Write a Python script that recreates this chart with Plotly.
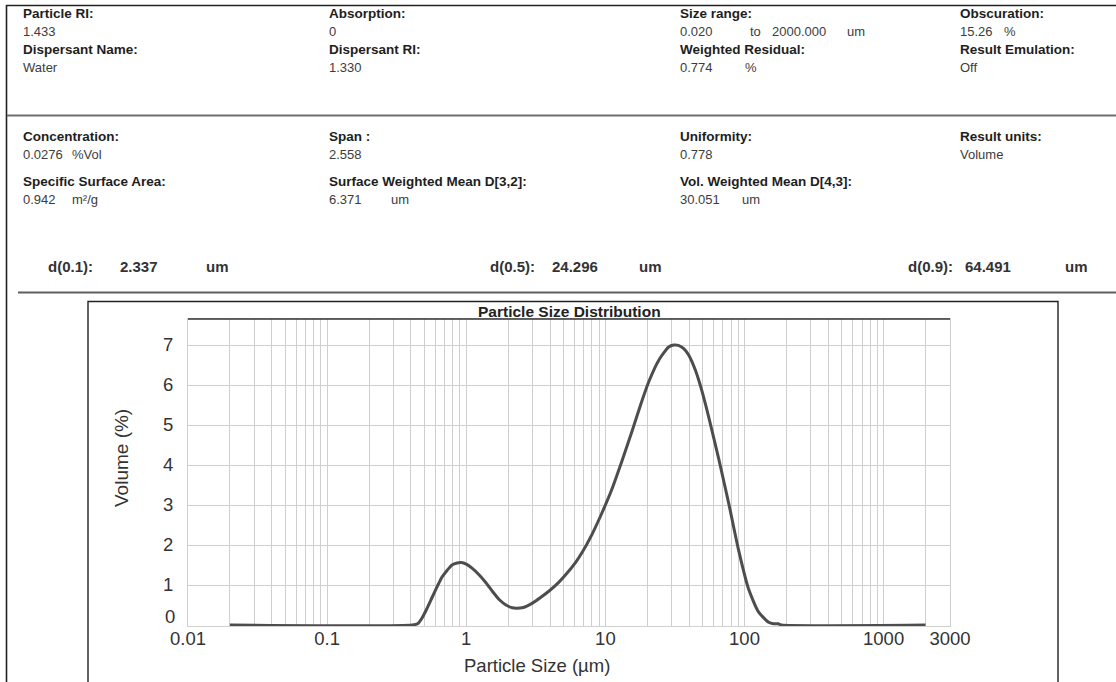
import plotly.graph_objects as go

# ---------------- data ----------------
sizes_um = [0.02, 0.41, 0.45, 0.48, 0.52, 0.57, 0.62, 0.67, 0.73, 0.79, 0.86, 0.92,
            1.0, 1.1, 1.24, 1.39, 1.55, 1.73, 1.93, 2.14, 2.3, 2.52, 2.75, 2.97,
            3.4, 3.94, 4.6, 5.2, 6.15, 6.8, 8.0, 9.44, 11.1, 13.1, 15.5, 17.9,
            20.5, 24.2, 28.5, 31.0, 33.5, 36.6, 39.7, 44.6, 46.8, 50.0, 55.2,
            65.1, 76.8, 90.6, 107, 126, 149, 162, 175, 185, 2000]
volume_pct = [0, 0, 0.04, 0.17, 0.4, 0.7, 0.97, 1.2, 1.37, 1.5, 1.55, 1.56,
              1.52, 1.42, 1.25, 1.05, 0.83, 0.63, 0.5, 0.43, 0.42, 0.43, 0.48, 0.54,
              0.68, 0.85, 1.06, 1.26, 1.58, 1.81, 2.26, 2.8, 3.38, 4.08, 4.83, 5.5,
              6.08, 6.62, 6.95, 7.0, 6.99, 6.91, 6.75, 6.35, 6.13, 5.79, 5.21,
              4.17, 3.06, 1.88, 0.9, 0.33, 0.07, 0.03, 0.03, 0, 0]

x_tick_vals = [0.01, 0.1, 1, 10, 100, 1000, 3000]
x_tick_text = ["0.01", "0.1", "1", "10", "100", "1000", "3000"]
y_tick_vals = [1, 2, 3, 4, 5, 6, 7]
y_zero_label = "0"
minor_grid_vals = [m * d for d in [0.01, 0.1, 1, 10, 100, 1000] for m in range(2, 10)] + [2000]

# header fields: (x, y of label, label, [(x, value text), ...])
header_rows = [
    (21, 13, "Particle RI:", [(21, "1.433")]),
    (21, 49, "Dispersant Name:", [(21, "Water")]),
    (327, 13, "Absorption:", [(327, "0")]),
    (327, 49, "Dispersant RI:", [(327, "1.330")]),
    (678, 13, "Size range:", [(678, "0.020"), (748, "to"), (770, "2000.000"), (845, "um")]),
    (678, 49, "Weighted Residual:", [(678, "0.774"), (743, "%")]),
    (958, 13, "Obscuration:", [(958, "15.26"), (1002, "%")]),
    (958, 49, "Result Emulation:", [(958, "Off")]),
    (21, 136, "Concentration:", [(21, "0.0276"), (70, "%Vol")]),
    (21, 181, "Specific Surface Area:", [(21, "0.942"), (70, "m²/g")]),
    (327, 136, "Span :", [(327, "2.558")]),
    (327, 181, "Surface Weighted Mean D[3,2]:", [(327, "6.371"), (389, "um")]),
    (678, 136, "Uniformity:", [(678, "0.778")]),
    (678, 181, "Vol. Weighted Mean D[4,3]:", [(678, "30.051"), (740, "um")]),
    (958, 136, "Result units:", [(958, "Volume")]),
]
d_row = [(46, "d(0.1):"), (118, "2.337"), (204, "um"),
         (488, "d(0.5):"), (550, "24.296"), (637, "um"),
         (906, "d(0.9):"), (963, "64.491"), (1063, "um")]

# ---------------- layout geometry ----------------
W, H = 1116, 682
L, R, T, B = 188, 950, 319, 626
Y_MIN, Y_MAX = -0.025, 7.65


def px(xp):
    return (xp - L) / (R - L)


def py(yp):
    return (B - yp) / (B - T)


FONT = "Liberation Sans, Arial, sans-serif"
LABEL_C = "#1e1e1e"
VALUE_C = "#3c3c3c"
GRID_C = "#cfcfcf"

fig = go.Figure()
fig.add_trace(go.Scatter(
    x=sizes_um, y=volume_pct, mode="lines",
    line=dict(color="#4d4d4d", width=3, shape="spline", smoothing=0.6),
    showlegend=False, hoverinfo="x+y"))

annotations = []
for (x0, y0, lab, vals) in header_rows:
    annotations.append(dict(x=px(x0), y=py(y0), xref="paper", yref="paper",
                            text="<b>%s</b>" % lab, showarrow=False,
                            xanchor="left", yanchor="middle",
                            font=dict(family=FONT, size=13.5, color=LABEL_C)))
    for (xv, tv) in vals:
        annotations.append(dict(x=px(xv), y=py(y0 + 18), xref="paper", yref="paper",
                                text=tv, showarrow=False,
                                xanchor="left", yanchor="middle",
                                font=dict(family=FONT, size=13, color=VALUE_C)))
for (xv, tv) in d_row:
    annotations.append(dict(x=px(xv), y=py(266), xref="paper", yref="paper",
                            text="<b>%s</b>" % tv, showarrow=False,
                            xanchor="left", yanchor="middle",
                            font=dict(family=FONT, size=15, color="#333333")))

annotations.append(dict(x=px(569), y=py(311), xref="paper", yref="paper",
                        text="<b>Particle Size Distribution</b>", showarrow=False,
                        xanchor="center", yanchor="middle",
                        font=dict(family=FONT, size=15.5, color="#222222")))
annotations.append(dict(x=px(121), y=py(458), xref="paper", yref="paper",
                        text="Volume (%)", showarrow=False, textangle=-90,
                        xanchor="center", yanchor="middle",
                        font=dict(family=FONT, size=19, color="#333333")))
annotations.append(dict(x=px(537), y=py(665), xref="paper", yref="paper",
                        text="Particle Size (µm)", showarrow=False,
                        xanchor="center", yanchor="middle",
                        font=dict(family=FONT, size=18.5, color="#333333")))
# y-axis "0" label, nudged up as in the reference so it sits above "0.01"
annotations.append(dict(x=px(177), y=py(616), xref="paper", yref="paper",
                        text=y_zero_label, showarrow=False,
                        xanchor="right", yanchor="middle",
                        font=dict(family=FONT, size=18.5, color="#333333")))

shapes = [
    # outer frame
    dict(type="line", xref="paper", yref="paper", x0=px(6.5), x1=px(6.5),
         y0=py(5), y1=py(700), line=dict(color="#222222", width=1.6)),
    dict(type="line", xref="paper", yref="paper", x0=px(6), x1=px(1120),
         y0=py(5.5), y1=py(5.5), line=dict(color="#222222", width=1.6)),
    # separators
    dict(type="line", xref="paper", yref="paper", x0=px(7), x1=px(1120),
         y0=py(115.5), y1=py(115.5), line=dict(color="#6e6e6e", width=2.2)),
    dict(type="line", xref="paper", yref="paper", x0=px(18), x1=px(1120),
         y0=py(292.5), y1=py(292.5), line=dict(color="#5e5e5e", width=2.2)),
    # chart box
    dict(type="rect", xref="paper", yref="paper", x0=px(88), x1=px(1058),
         y0=py(301.5), y1=py(700), line=dict(color="#222222", width=1.4)),
    # dark top line of plot area
    dict(type="line", xref="paper", yref="paper", x0=0, x1=1,
         y0=1, y1=1, line=dict(color="#333333", width=1.6)),
]

fig.update_layout(
    width=W, height=H,
    margin=dict(l=L, r=W - R, t=T, b=H - B, pad=0),
    paper_bgcolor="white", plot_bgcolor="white",
    font=dict(family=FONT, color="#333333"),
    annotations=annotations, shapes=shapes,
    showlegend=False,
    xaxis=dict(type="log", range=[-2, 3.4771], tickmode="array",
               tickvals=x_tick_vals, ticktext=x_tick_text,
               showgrid=True, gridcolor=GRID_C, gridwidth=1,
               minor=dict(tickmode="array", tickvals=minor_grid_vals,
                          showgrid=True, gridcolor=GRID_C, gridwidth=1, ticks=""),
               showline=True, linecolor=GRID_C, linewidth=1, mirror=True,
               ticks="", zeroline=False, ticklabelstandoff=-4,
               tickfont=dict(family=FONT, size=18.5, color="#333333")),
    yaxis=dict(range=[Y_MIN, Y_MAX], tickmode="array", tickvals=y_tick_vals,
               showgrid=True, gridcolor=GRID_C, gridwidth=1,
               showline=True, linecolor=GRID_C, linewidth=1, mirror=True,
               ticks="", zeroline=False, ticklabelstandoff=10,
               tickfont=dict(family=FONT, size=18.5, color="#333333")),
)

fig.write_html("out.html", config={"displayModeBar": False},
               post_script="document.body.style.margin='0px';")
